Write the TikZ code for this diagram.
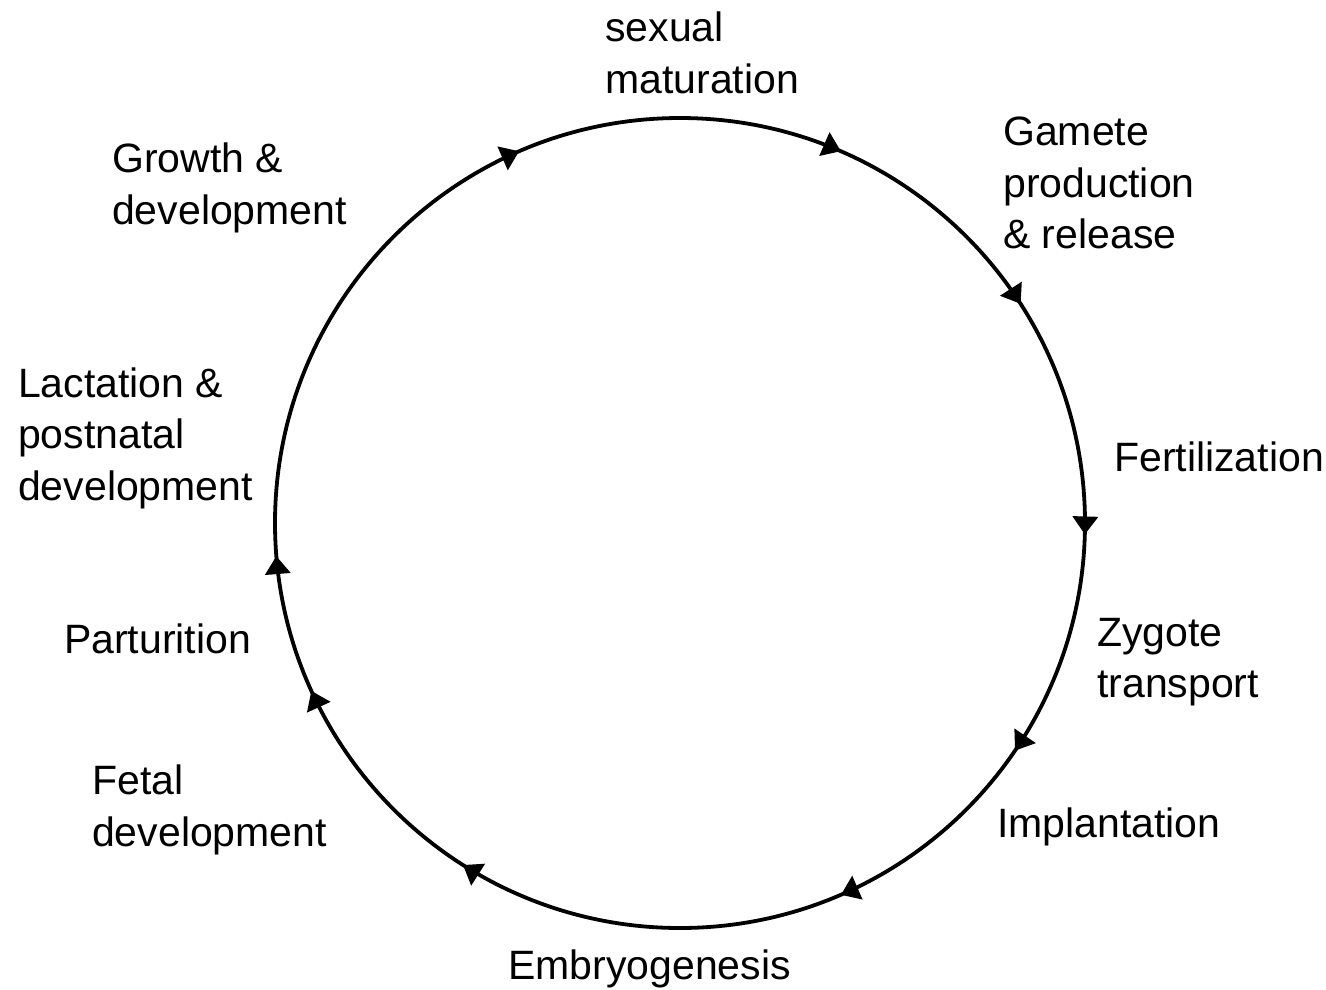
\documentclass[tikz,border=0pt]{standalone}
\usepackage{fontspec}
\setmainfont{Liberation Sans}
\usetikzlibrary{arrows.meta,decorations.markings,calc}
\begin{document}
\begin{tikzpicture}[x=1pt,y=1pt,
  lbl/.style={anchor=west,align=left,inner sep=0pt,font=\fontsize{41}{51.5}\selectfont},
  cyc/.style={line width=3.8pt},
  tipmark/.style={postaction={decorate,decoration={markings,
    mark=at position #1 with {\arrow{Triangle[width=25pt,length=18pt]}}}}}
]
\useasboundingbox (0,0) rectangle (1326,-989);
\coordinate (c) at (680,-523);
\draw[cyc,
  tipmark=0.0045, tipmark=0.095, tipmark=0.185, tipmark=0.340,
  tipmark=0.432, tipmark=0.487, tipmark=0.685, tipmark=0.815, tipmark=0.909]
  ($(c)+(405,0)$) arc[start angle=0,end angle=-360,radius=405];
\node[lbl] (sex) at (605,-53) {sexual\\maturation};
\node[lbl] (gam) at (1003,-183) {Gamete\\production\\\& release};
\node[lbl] (fer) at (1114,-457) {Fertilization};
\node[lbl] (zyg) at (1097,-662) {Zygote\\transport};
\node[lbl] (imp) at (997,-827) {Implantation};
\node[lbl] (emb) at (508,-969) {Embryogenesis};
\node[lbl] (fet) at (92,-810) {Fetal\\development};
\node[lbl] (par) at (64,-639) {Parturition};
\node[lbl] (lac) at (18,-438) {Lactation \&\\postnatal\\development};
\node[lbl] (gro) at (112,-188) {Growth \&\\development};
\end{tikzpicture}
\end{document}
